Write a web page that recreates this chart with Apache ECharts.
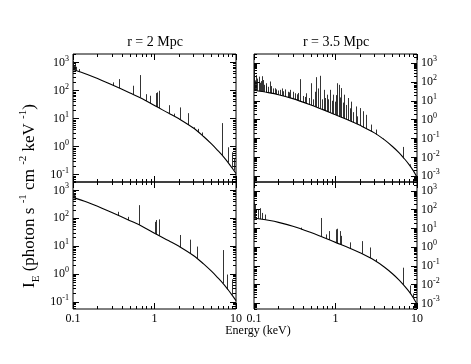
<!DOCTYPE html>
<html>
<head>
<meta charset="utf-8">
<script src="https://cdn.jsdelivr.net/npm/echarts@6/dist/echarts.min.js"></script>
<style>
  html, body { margin: 0; padding: 0; background: #fff; }
  #chart { width: 471px; height: 364px; }
</style>
</head>
<body>
<div id="chart"></div>
<script>
// continuum (energy in keV)
var contEnergy = [0.1, 0.15, 0.2, 0.3, 0.5, 0.7, 1, 1.5, 2, 3, 4, 5, 6, 7, 8, 9, 10];
var contInner = [560, 375, 270, 160, 82, 52, 29, 15.5, 9.8, 4.6, 2.3, 1.25, 0.72, 0.44, 0.27, 0.17, 0.11];
var contOuter = [36, 27, 21, 13, 6, 3.4, 1.8, 0.88, 0.5, 0.2, 0.085, 0.038, 0.018, 0.0085, 0.0042, 0.002, 0.0009];

// emission lines: [energy, continuum under it, peak]
var linesTopLeft = [
  [0.100, 560, 900], [0.102, 549, 1150], [0.104, 538, 800], [0.107, 523, 950],
  [0.110, 508, 700], [0.120, 467, 580], [0.31, 153, 195], [0.37, 122, 255],
  [0.55, 72, 148], [0.66, 56, 355], [0.79, 42.7, 74], [0.89, 35, 65],
  [1.04, 27.3, 81], [1.08, 25.8, 86], [1.14, 23.7, 98], [1.51, 15.4, 30],
  [1.73, 12.4, 15], [2.07, 9.2, 25], [2.63, 5.9, 15.6], [3.1, 4.25, 4.9],
  [3.45, 3.28, 4.3], [3.9, 2.44, 3.2], [6.8, 0.48, 6.9], [8.0, 0.27, 0.95],
  [8.9, 0.178, 0.63], [9.4, 0.142, 0.36]
];
var linesBottomLeft = [
  [0.101, 555, 1000], [0.104, 538, 800], [0.108, 518, 650], [0.36, 126, 170],
  [0.48, 86, 112], [0.65, 57.4, 295], [1.01, 28.5, 74], [1.06, 26.5, 86],
  [1.15, 23.4, 91], [2.07, 9.2, 25], [2.73, 5.5, 17], [3.3, 3.66, 9.6],
  [6.9, 0.46, 7.2], [7.9, 0.283, 0.95], [8.9, 0.178, 0.64]
];
var linesTopRight = [
  [0.100, 36, 500], [0.102, 35.5, 350], [0.105, 34.8, 120], [0.108, 34.2, 230],
  [0.111, 33.6, 150], [0.116, 32.4, 190], [0.119, 31.8, 90], [0.122, 31.3, 110],
  [0.125, 30.8, 200], [0.13, 29.9, 125], [0.135, 29.1, 70], [0.14, 28.4, 60],
  [0.143, 28, 85], [0.15, 27, 55], [0.157, 26, 105], [0.165, 24.9, 60],
  [0.17, 24.2, 45], [0.18, 23, 46], [0.19, 22, 40], [0.2, 21, 35],
  [0.21, 19.8, 38], [0.22, 18.8, 45], [0.23, 17.8, 32], [0.24, 16.9, 40],
  [0.26, 15.4, 30], [0.27, 14.7, 28], [0.28, 14.1, 38], [0.30, 13, 30],
  [0.32, 11.8, 25], [0.34, 10.8, 22], [0.35, 10.3, 26], [0.37, 9.5, 140],
  [0.4, 8.4, 18], [0.42, 7.8, 16], [0.44, 7.3, 25], [0.47, 6.6, 14],
  [0.51, 5.8, 85], [0.53, 5.4, 12], [0.56, 4.96, 30], [0.58, 4.7, 178],
  [0.62, 4.2, 45], [0.645, 3.9, 210], [0.68, 3.57, 12], [0.72, 3.23, 38],
  [0.74, 3.08, 14], [0.79, 2.74, 21], [0.82, 2.57, 12], [0.86, 2.36, 38],
  [0.9, 2.17, 10], [0.94, 2.0, 21], [0.98, 1.87, 9], [1.02, 1.74, 20],
  [1.05, 1.65, 85], [1.1, 1.52, 70], [1.13, 1.45, 15], [1.19, 1.32, 47],
  [1.23, 1.25, 8], [1.29, 1.15, 21], [1.35, 1.06, 6], [1.44, 0.94, 14],
  [1.5, 0.88, 4], [1.58, 0.795, 9], [1.65, 0.73, 2.5], [1.78, 0.63, 5],
  [1.85, 0.58, 1.5], [2.0, 0.5, 4.1], [2.2, 0.4, 2.8], [2.4, 0.325, 1.8],
  [2.75, 0.236, 0.55], [3.2, 0.165, 0.3], [3.9, 0.092, 0.1], [6.8, 0.0098, 0.036],
  [8.2, 0.0036, 0.0043]
];
var linesBottomRight = [
  [0.100, 36, 280], [0.103, 35.2, 200], [0.113, 33, 100], [0.12, 31.6, 120],
  [0.128, 30.3, 67], [0.136, 29, 55], [0.385, 8.9, 11], [0.66, 3.75, 36],
  [0.78, 2.8, 4.8], [0.85, 2.41, 7.2], [1.01, 1.78, 8.9], [1.05, 1.65, 9.6],
  [1.14, 1.43, 7.2], [1.19, 1.32, 4], [1.5, 0.88, 1.8], [2.1, 0.445, 2.1],
  [2.65, 0.26, 0.96], [3.2, 0.165, 0.23], [6.8, 0.0098, 0.08], [8.2, 0.0036, 0.009],
  [9.0, 0.002, 0.0034]
];

// axis ticks
var xMajor = [0.1, 1, 10];
var xMinor = [0.2, 0.3, 0.4, 0.5, 0.6, 0.7, 0.8, 0.9, 2, 3, 4, 5, 6, 7, 8, 9];
var yMajorInner = [0.1, 1, 10, 100, 1000];
var yMajorOuter = [0.001, 0.01, 0.1, 1, 10, 100, 1000];
var yMinor = [];
for (var k = -4; k <= 3; k++) {
  for (var m = 2; m <= 9; m++) yMinor.push(m * Math.pow(10, k));
}

var serif = '"Liberation Serif", "DejaVu Serif", serif';

var panels = [
  { left: 73, top: 54, height: 128, ymin: 0.055, ymax: 2000, yMajor: yMajorInner, cont: contInner, lines: linesTopLeft, xLabels: false, ySide: 'left' },
  { left: 254, top: 54, height: 128, ymin: 0.0005, ymax: 3000, yMajor: yMajorOuter, cont: contOuter, lines: linesTopRight, xLabels: false, ySide: 'right' },
  { left: 73, top: 182, height: 127, ymin: 0.055, ymax: 2000, yMajor: yMajorInner, cont: contInner, lines: linesBottomLeft, xLabels: true, ySide: 'left' },
  { left: 254, top: 182, height: 127, ymin: 0.0005, ymax: 3000, yMajor: yMajorOuter, cont: contOuter, lines: linesBottomRight, xLabels: true, ySide: 'right' }
];

function tickAxis(gi, pos, lo, hi, values, len, label) {
  var ax = {
    type: 'log', logBase: 10, gridIndex: gi, position: pos, min: lo, max: hi,
    axisLine: { show: false },
    splitLine: { show: false },
    axisTick: { show: true, inside: true, length: len, customValues: values, lineStyle: { color: '#000', width: 1 } },
    axisLabel: { show: false }
  };
  if (label) {
    label.customValues = values;
    ax.axisLabel = label;
  }
  return ax;
}

function xLabel() {
  return {
    show: true, margin: 4, color: '#000', fontFamily: serif, fontSize: 12,
    formatter: function (v) { return v >= 1 ? v.toFixed(0) : v.toFixed(1); }
  };
}

function yLabel() {
  return {
    show: true, margin: 4, color: '#000',
    formatter: function (v) {
      var e = Math.round(Math.log(v) / Math.LN10);
      return '{b|10}{s|' + e + '}';
    },
    rich: {
      b: { fontFamily: serif, fontSize: 12, lineHeight: 16, color: '#000' },
      s: { fontFamily: serif, fontSize: 8, lineHeight: 8, verticalAlign: 'top', color: '#000' }
    }
  };
}

var grids = [], xAxes = [], yAxes = [], series = [];

panels.forEach(function (p, gi) {
  grids.push({
    left: p.left, top: p.top, width: 163, height: p.height,
    show: true, borderColor: '#000', borderWidth: 1, backgroundColor: 'transparent'
  });

  xAxes.push(tickAxis(gi, 'bottom', 0.1, 10, xMajor, 6, p.xLabels ? xLabel() : null));
  xAxes.push(tickAxis(gi, 'bottom', 0.1, 10, xMinor, 3, null));
  xAxes.push(tickAxis(gi, 'top', 0.1, 10, xMajor, 6, null));
  xAxes.push(tickAxis(gi, 'top', 0.1, 10, xMinor, 3, null));

  yAxes.push(tickAxis(gi, 'left', p.ymin, p.ymax, p.yMajor, 6, p.ySide === 'left' ? yLabel() : null));
  yAxes.push(tickAxis(gi, 'left', p.ymin, p.ymax, yMinor, 3, null));
  yAxes.push(tickAxis(gi, 'right', p.ymin, p.ymax, p.yMajor, 6, p.ySide === 'right' ? yLabel() : null));
  yAxes.push(tickAxis(gi, 'right', p.ymin, p.ymax, yMinor, 3, null));

  series.push({
    type: 'lines', coordinateSystem: 'cartesian2d', xAxisIndex: gi * 4, yAxisIndex: gi * 4,
    polyline: false, silent: true,
    data: p.lines.map(function (l) { return { coords: [[l[0], l[1]], [l[0], l[2]]] }; }),
    lineStyle: { color: '#111', width: 1, opacity: 0.85 }
  });

  series.push({
    type: 'line', xAxisIndex: gi * 4, yAxisIndex: gi * 4,
    data: contEnergy.map(function (e, i) { return [e, p.cont[i]]; }),
    symbol: 'none', smooth: 0.35, silent: true,
    lineStyle: { color: '#000', width: 1.1 }
  });
});

var chart = echarts.init(document.getElementById('chart'), null, { renderer: 'canvas' });
chart.setOption({
  animation: false,
  backgroundColor: '#fff',
  grid: grids,
  xAxis: xAxes,
  yAxis: yAxes,
  series: series,
  graphic: [
    { type: 'text', x: 155, y: 42, style: { text: 'r = 2 Mpc', font: '14px ' + serif, fill: '#000', align: 'center', verticalAlign: 'middle' } },
    { type: 'text', x: 336, y: 42, style: { text: 'r = 3.5 Mpc', font: '14px ' + serif, fill: '#000', align: 'center', verticalAlign: 'middle' } },
    { type: 'text', x: 258, y: 331, style: { text: 'Energy (keV)', font: '12px ' + serif, fill: '#000', align: 'center', verticalAlign: 'middle' } },
    {
      type: 'text', x: 30, y: 196, rotation: Math.PI / 2,
      style: {
        text: '{m|I}{sub|E}{m| (photon s }{sup|-1}{m| cm }{sup|-2}{m| keV }{sup|-1}{m|)}',
        align: 'center', verticalAlign: 'middle', fill: '#000',
        rich: {
          m: { fontFamily: serif, fontSize: 17, lineHeight: 24, fill: '#000' },
          sub: { fontFamily: serif, fontSize: 11, lineHeight: 12, verticalAlign: 'bottom', fill: '#000' },
          sup: { fontFamily: serif, fontSize: 11, lineHeight: 12, verticalAlign: 'top', fill: '#000' }
        }
      }
    }
  ]
});
</script>
</body>
</html>
